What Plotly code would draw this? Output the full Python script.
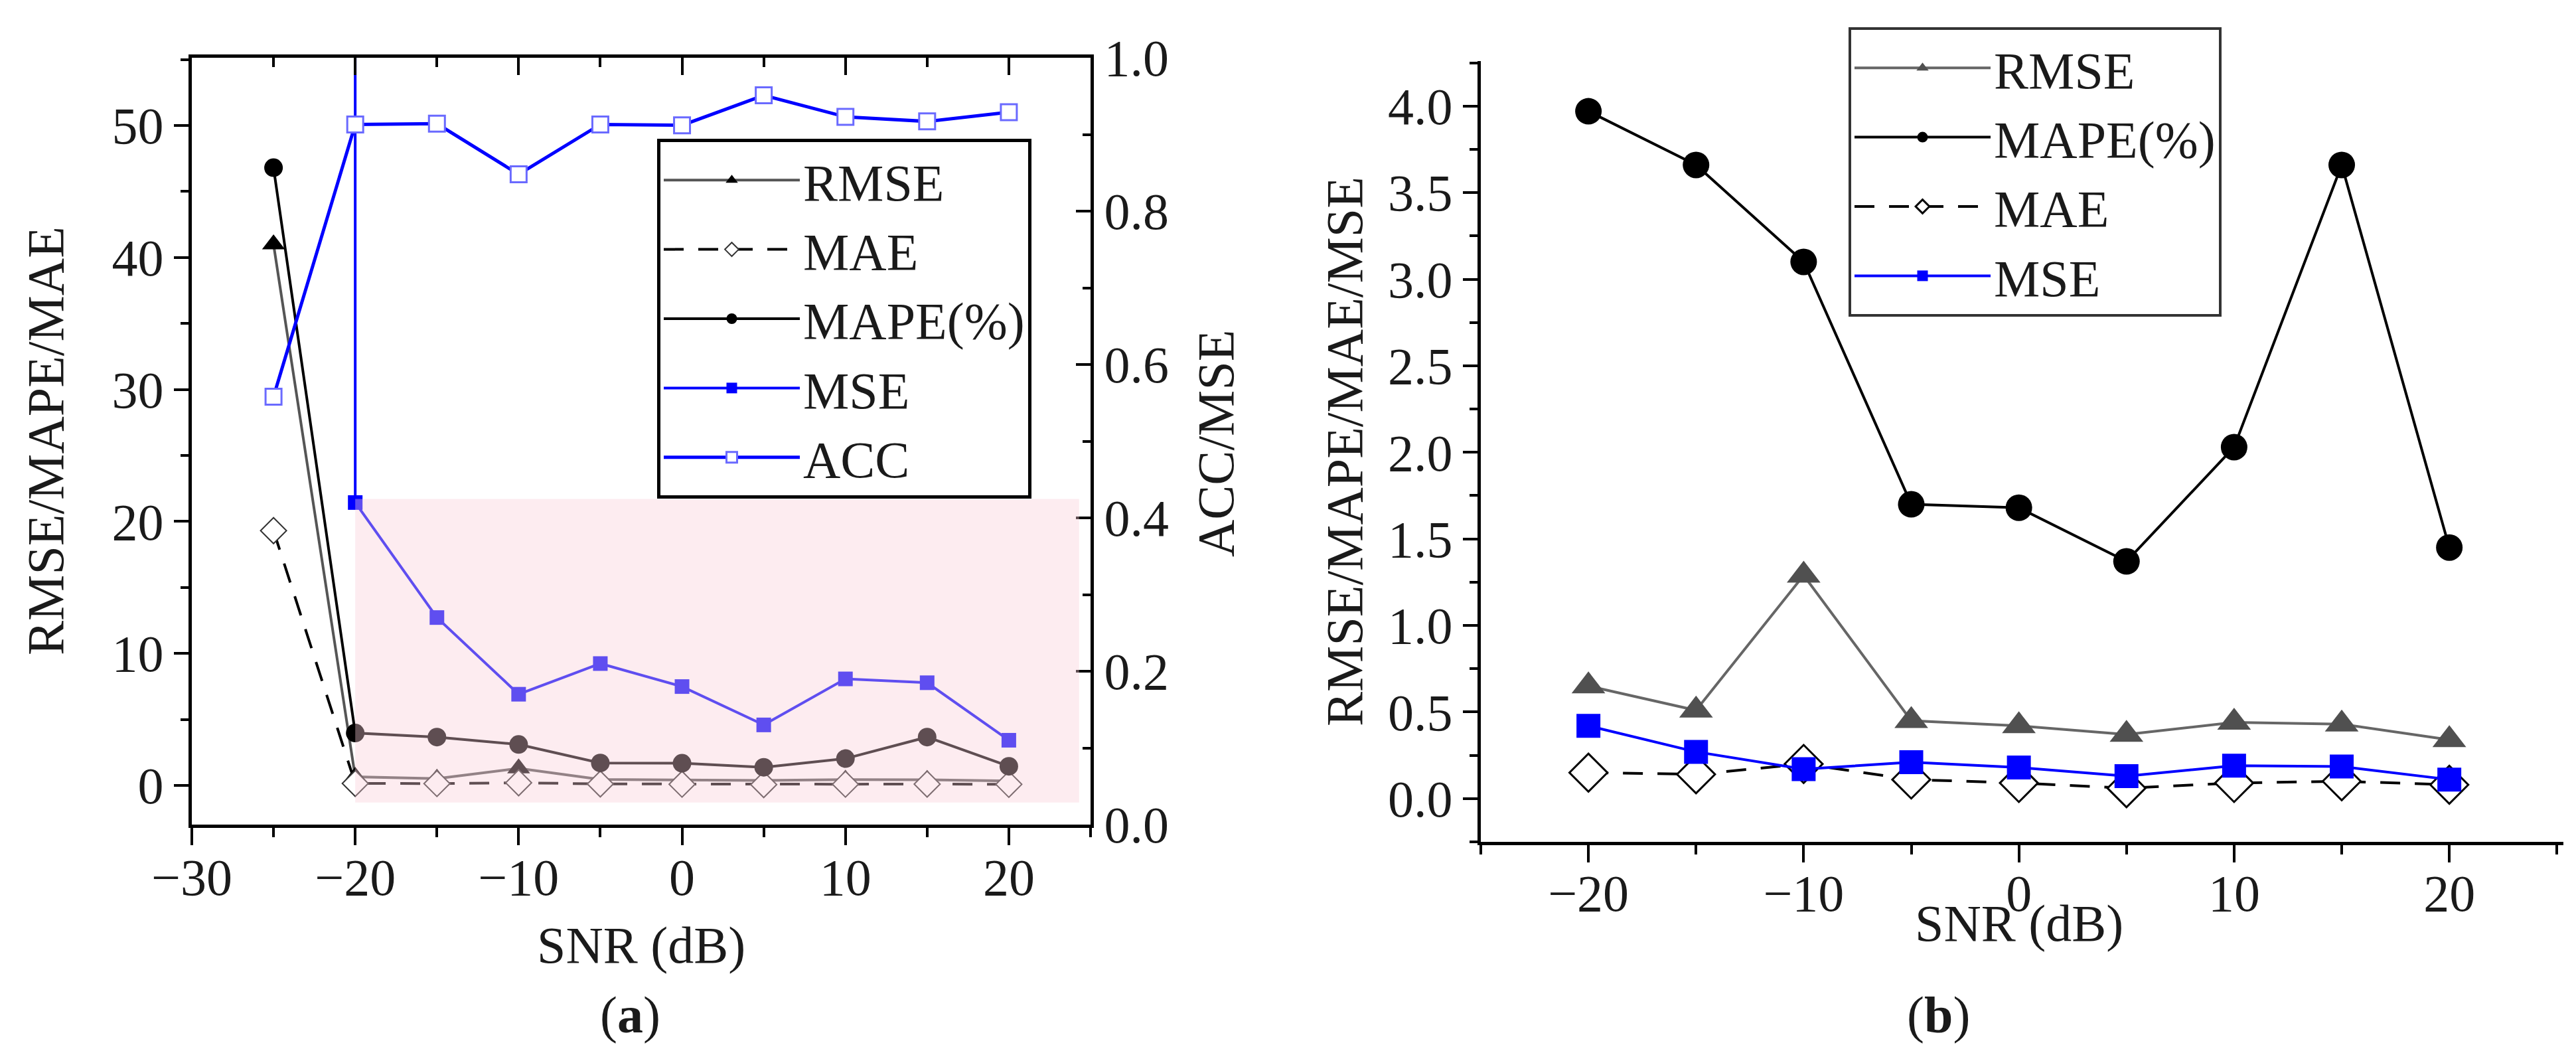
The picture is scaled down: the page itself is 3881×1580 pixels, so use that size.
import plotly.graph_objects as go

# SNR levels (dB)
snr_a = [-25, -20, -15, -10, -5, 0, 5, 10, 15, 20]
snr_b = [-20, -15, -10, -5, 0, 5, 10, 15, 20]

# panel (b) metrics
rmse_b = [0.65, 0.51, 1.29, 0.45, 0.42, 0.37, 0.44, 0.43, 0.34]
mape_b = [3.97, 3.66, 3.10, 1.70, 1.68, 1.37, 2.03, 3.66, 1.45]
mae_b = [0.15, 0.14, 0.20, 0.11, 0.09, 0.06, 0.09, 0.10, 0.08]
mse_b = [0.42, 0.27, 0.17, 0.21, 0.18, 0.13, 0.19, 0.185, 0.11]

# panel (a) metrics, with the -25 dB point
rmse_a = [41.0] + rmse_b
mae_a = [19.3] + mae_b
mape_a = [46.8] + mape_b
mse_a = [1681.0] + mse_b
acc_a = [0.558, 0.913, 0.914, 0.848, 0.913, 0.912, 0.951, 0.923, 0.917, 0.929]

W, H = 3881, 1580
FONT = "Liberation Serif"
BLUE = "#0000ff"


def fx(p):
    return p / W


def fy(p):
    return 1 - p / H


fig = go.Figure()

# ---- panel (a)
fig.add_trace(go.Scatter(x=snr_a, y=rmse_a, name="RMSE", mode="lines+markers",
                         line=dict(color="#555555", width=4),
                         marker=dict(symbol="triangle-up", size=30, color="black"),
                         xaxis="x", yaxis="y", legend="legend"))
fig.add_trace(go.Scatter(x=snr_a, y=mae_a, name="MAE", mode="lines+markers",
                         line=dict(color="black", width=4, dash="30px,22px"),
                         marker=dict(symbol="diamond", size=30, color="white",
                                     line=dict(color="#333333", width=2)),
                         xaxis="x", yaxis="y", legend="legend"))
fig.add_trace(go.Scatter(x=snr_a, y=mape_a, name="MAPE(%)", mode="lines+markers",
                         line=dict(color="black", width=4),
                         marker=dict(symbol="circle", size=28, color="black"),
                         xaxis="x", yaxis="y", legend="legend"))
fig.add_trace(go.Scatter(x=snr_a, y=mse_a, name="MSE", mode="lines+markers",
                         line=dict(color=BLUE, width=4),
                         marker=dict(symbol="square", size=22, color=BLUE),
                         xaxis="x", yaxis="y2", legend="legend"))
fig.add_trace(go.Scatter(x=snr_a, y=acc_a, name="ACC", mode="lines+markers",
                         line=dict(color=BLUE, width=5),
                         marker=dict(symbol="square", size=24, color="white",
                                     line=dict(color="#6a6aff", width=3)),
                         xaxis="x", yaxis="y2", legend="legend"))
# empty trace so the top frame axis is drawn
fig.add_trace(go.Scatter(x=[None], y=[None], xaxis="x3", yaxis="y",
                         showlegend=False, hoverinfo="skip"))

# ---- panel (b)
fig.add_trace(go.Scatter(x=snr_b, y=rmse_b, name="RMSE", mode="lines+markers",
                         line=dict(color="#666666", width=4),
                         marker=dict(symbol="triangle-up", size=44, color="#505050"),
                         xaxis="x2", yaxis="y3", legend="legend2"))
fig.add_trace(go.Scatter(x=snr_b, y=mape_b, name="MAPE(%)", mode="lines+markers",
                         line=dict(color="black", width=4),
                         marker=dict(symbol="circle", size=40, color="black"),
                         xaxis="x2", yaxis="y3", legend="legend2"))
fig.add_trace(go.Scatter(x=snr_b, y=mae_b, name="MAE", mode="lines+markers",
                         line=dict(color="black", width=4, dash="30px,22px"),
                         marker=dict(symbol="diamond", size=44, color="white",
                                     line=dict(color="black", width=3)),
                         xaxis="x2", yaxis="y3", legend="legend2"))
fig.add_trace(go.Scatter(x=snr_b, y=mse_b, name="MSE", mode="lines+markers",
                         line=dict(color=BLUE, width=4),
                         marker=dict(symbol="square", size=36, color=BLUE),
                         xaxis="x2", yaxis="y3", legend="legend2"))

tickfont = dict(family=FONT, size=78, color="#1a1a1a")
common = dict(showgrid=False, zeroline=False, showline=True, linecolor="black",
              linewidth=5, tickcolor="black", tickwidth=4, tickfont=tickfont,
              automargin=False)
minor_kw = dict(tickwidth=4, tickcolor="black")

fig.update_layout(
    template="none",
    width=W, height=H, autosize=False,
    margin=dict(l=0, r=0, t=0, b=0, pad=0),
    paper_bgcolor="white", plot_bgcolor="white",
    font=dict(family=FONT, size=78, color="#1a1a1a"),
    xaxis=dict(domain=[fx(281), fx(1635)], anchor="y", range=[-30, 25],
               tick0=-30, dtick=10, ticks="outside", ticklen=26,
               ticklabelstandoff=-19,
               minor=dict(dtick=5, tick0=-30, ticks="outside", ticklen=14, **minor_kw),
               **common),
    xaxis3=dict(domain=[fx(281), fx(1635)], anchor="y", overlaying="x", side="top",
                range=[-30, 25], tick0=-30, dtick=10, ticks="inside", ticklen=26,
                showticklabels=False,
                minor=dict(dtick=5, tick0=-30, ticks="inside", ticklen=14, **minor_kw),
                **common),
    yaxis=dict(domain=[fy(1234), fy(79)], anchor="x", range=[-2.97, 55.13],
               tick0=0, dtick=10, ticks="outside", ticklen=22,
               minor=dict(dtick=5, tick0=0, ticks="outside", ticklen=12, **minor_kw),
               **common),
    yaxis2=dict(anchor="x", overlaying="y", side="right", range=[0, 1.0],
                tick0=0, dtick=0.2, tickformat=".1f", ticks="inside", ticklen=22,
                minor=dict(dtick=0.1, tick0=0, ticks="inside", ticklen=12, **minor_kw),
                **common),
    xaxis2=dict(domain=[fx(2223), fx(3854)], anchor="y3", range=[-25, 25.3],
                tick0=0, dtick=10, ticks="outside", ticklen=26,
                ticklabelstandoff=-21,
                minor=dict(dtick=5, tick0=0, ticks="outside", ticklen=14, **minor_kw),
                **common),
    yaxis3=dict(domain=[fy(1260), fy(84)], anchor="x2", range=[-0.25, 4.26],
                tick0=0, dtick=0.5, tickformat=".1f", ticks="outside", ticklen=22,
                minor=dict(dtick=0.25, tick0=0, ticks="outside", ticklen=12, **minor_kw),
                **common),
    legend=dict(x=fx(982), y=fy(201), xanchor="left", yanchor="top",
                bgcolor="white", bordercolor="black", borderwidth=5,
                font=dict(family=FONT, size=78, color="#1a1a1a"),
                itemwidth=205, tracegroupgap=0),
    legend2=dict(x=fx(2777), y=fy(33), xanchor="left", yanchor="top",
                 bgcolor="white", bordercolor="#333333", borderwidth=4,
                 font=dict(family=FONT, size=78, color="#1a1a1a"),
                 itemwidth=205, tracegroupgap=0),
    showlegend=True,
)

# pink shaded band over the low-error region, drawn above the lines
fig.add_shape(type="rect", xref="x", yref="y", x0=-20, x1=24.3, y0=-1.3, y1=21.7,
              fillcolor="rgb(250,205,215)", opacity=0.38, line=dict(width=0),
              layer="above")

ann = dict(showarrow=False, xref="paper", yref="paper", xanchor="center",
           yanchor="middle", font=dict(family=FONT, size=78, color="#1a1a1a"))
fig.add_annotation(text="RMSE/MAPE/MAE", x=fx(60), y=fy(656), textangle=-90, **ann)
fig.add_annotation(text="ACC/MSE", x=fx(1823), y=fy(660), textangle=-90, **ann)
fig.add_annotation(text="SNR (dB)", x=fx(958), y=fy(1415), **ann)
fig.add_annotation(text="(<b>a</b>)", x=fx(941), y=fy(1520), **ann)
fig.add_annotation(text="RMSE/MAPE/MAE/MSE", x=fx(2017), y=fy(672), textangle=-90, **ann)
fig.add_annotation(text="SNR (dB)", x=fx(3034), y=fy(1382), **ann)
fig.add_annotation(text="(<b>b</b>)", x=fx(2912), y=fy(1520), **ann)

fig.write_html("out.html")
